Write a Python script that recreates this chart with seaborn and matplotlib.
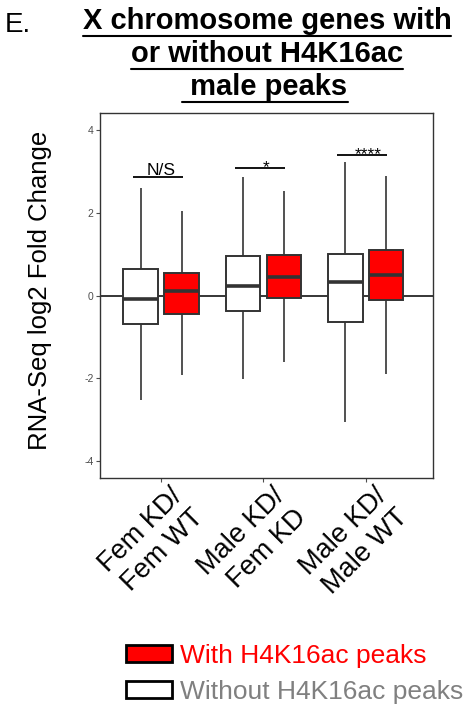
import numpy as np
import pandas as pd
import matplotlib
matplotlib.use("Agg")
import matplotlib.pyplot as plt
import seaborn as sns
from matplotlib.patches import Patch
from matplotlib.lines import Line2D
from matplotlib.transforms import ScaledTranslation

# ---------------- data ----------------
categories = ["Fem KD/\nFem WT", "Male KD/\nFem KD", "Male KD/\nMale WT"]
groups = ["Without H4K16ac peaks", "With H4K16ac peaks"]
# box stats per category: [whisker low, Q1, median, Q3, whisker high]
without_stats = [
    [-2.52, -0.69, -0.09, 0.64, 2.58],
    [-2.01, -0.38, 0.24, 0.95, 2.86],
    [-3.04, -0.64, 0.32, 0.99, 3.22],
]
with_stats = [
    [-1.92, -0.44, 0.10, 0.54, 2.03],
    [-1.60, -0.06, 0.44, 0.98, 2.52],
    [-1.89, -0.11, 0.49, 1.10, 2.88],
]
sig_labels = ["N/S", "*", "****"]
sig_bar_y = [2.86, 3.08, 3.38]
y_ticks = [-4, -2, 0, 2, 4]
title_lines = ["X chromosome genes with", "or without H4K16ac", " male peaks"]

rows = []
for ci, cat in enumerate(categories):
    for v in without_stats[ci]:
        rows.append((cat, groups[0], v))
    for v in with_stats[ci]:
        rows.append((cat, groups[1], v))
df = pd.DataFrame(rows, columns=["comparison", "group", "lfc"])

# ---------------- figure ----------------
sns.set_style("white")
plt.rcParams["font.family"] = ["Liberation Sans", "DejaVu Sans"]
plt.rcParams["text.color"] = "black"

W, H = 472, 708
fig = plt.figure(figsize=(W / 100, H / 100), dpi=100)
ax = fig.add_axes([100 / W, 1 - 478 / H, 333 / W, 365 / H])

ax.axhline(0, color="black", lw=1.1, zorder=0.5)

sns.boxplot(
    data=df, x="comparison", y="lfc", hue="group",
    order=categories, hue_order=groups,
    palette={groups[0]: "white", groups[1]: "#ff0000"}, saturation=1,
    width=0.8, gap=0.15, whis=np.inf, showcaps=False,
    linecolor="#333333", linewidth=1.4,
    medianprops={"linewidth": 2.6, "color": "#333333"},
    whiskerprops={"linewidth": 1.2},
    legend=False, ax=ax, zorder=2,
)

ax.set_xlim(-0.6, 2.66)
ax.set_ylim(-4.4, 4.4)
ax.set_yticks(y_ticks)
ax.set_yticklabels([str(t) for t in y_ticks])
ax.tick_params(axis="y", labelsize=7.5, labelcolor="#4d4d4d", color="#4d4d4d",
               length=3, width=0.8, pad=1.5, left=True)
ax.tick_params(axis="x", color="#4d4d4d", length=3, width=0.8, pad=0.5, bottom=True)
ax.set_xlabel("")
ax.set_ylabel("")
for s in ax.spines.values():
    s.set_visible(True)
    s.set_color("#333333")
    s.set_linewidth(1.0)

ax.set_xticks(range(len(categories)))
ax.set_xticklabels(categories, rotation=45, ha="right", va="top",
                   rotation_mode="anchor", fontsize=19.5, color="black",
                   multialignment="right", linespacing=1.22)
off = ScaledTranslation(0.08, 0.0, fig.dpi_scale_trans)
for lab in ax.get_xticklabels():
    lab.set_transform(lab.get_transform() + off)

# significance bars
for i, (lab, yb) in enumerate(zip(sig_labels, sig_bar_y)):
    ax.plot([i - 0.28, i + 0.21], [yb, yb], color="black", lw=1.3,
            solid_capstyle="butt", zorder=3)
    if lab == "N/S":
        ax.text(i + 0.0, yb + 0.04, lab, ha="center", va="baseline", fontsize=12.5)
    else:
        ax.text(i + 0.03, yb - 0.10, lab, ha="center", va="baseline", fontsize=12.5)

# y label
fig.text(40 / W, 1 - 290 / H, "RNA-Seq log2 Fold Change", rotation=90,
         ha="center", va="center", fontsize=18.5)

# panel letter
fig.text(5 / W, 1 - 32 / H, "E.", ha="left", va="baseline", fontsize=20)

# title lines
title_base = [29, 62, 95]
title_cx = [267, 267, 265]
title_texts = []
for line, yb, cx in zip(title_lines, title_base, title_cx):
    t = fig.text(cx / W, 1 - yb / H, line, ha="center", va="baseline",
                 fontsize=21, fontweight="bold", color="black")
    title_texts.append(t)

# legend
handles = [Patch(facecolor="#ff0000", edgecolor="black", linewidth=2.0),
           Patch(facecolor="white", edgecolor="black", linewidth=2.0)]
fig.legend(handles, [groups[1], groups[0]], loc="upper left",
           bbox_to_anchor=(126 / W, 1 - 644 / H), frameon=False,
           fontsize=19, labelcolor=["#ff0000", "#808080"],
           handlelength=1.74, handleheight=0.64, handletextpad=0.3,
           labelspacing=0.45, borderpad=0, borderaxespad=0)

# underline title lines
fig.canvas.draw()
r = fig.canvas.get_renderer()
inv = fig.transFigure.inverted()
for t in title_texts:
    bb = t.get_window_extent(r)
    (x0, y0), (x1, _) = inv.transform([[bb.x0, bb.y0 - 0.5], [bb.x1, bb.y0]])
    fig.add_artist(Line2D([x0, x1], [y0, y0], color="black", lw=1.5,
                          transform=fig.transFigure))

fig.savefig("out.png", dpi=100)
